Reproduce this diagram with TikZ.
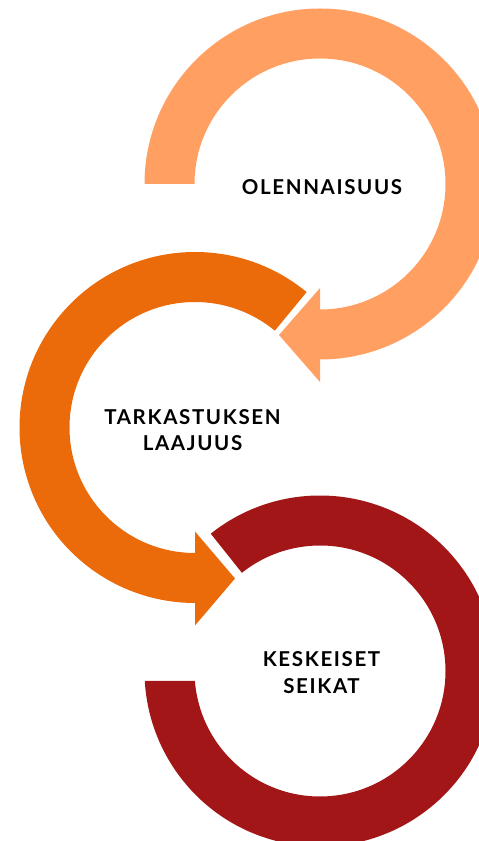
\documentclass[tikz,border=0pt]{standalone}
\usepackage{fontspec}
\usetikzlibrary{calc}
\setmainfont{Lato}[LetterSpace=8]
\definecolor{lightor}{HTML}{FFA062}
\definecolor{darkor}{HTML}{EB6A09}
\definecolor{darkred}{HTML}{A31618}
\tikzset{
  lbl/.style={font=\fontsize{20.5}{26.5}\selectfont\bfseries, align=center, text=black, inner sep=0pt},
}
\begin{document}
\begin{tikzpicture}[x=1pt,y=1pt]
\useasboundingbox (0,0) rectangle (479,841);
\def\Ro{175.5}
\def\Ri{125.5}
% centres (y up)
\coordinate (c1) at (320,657);
\coordinate (c2) at (195,413.5);
\coordinate (c3) at (320,170);
% circle 1: light orange, from left, clockwise, arrow at bottom pointing left
\fill[lightor] ($(c1)+(180:\Ro)$) arc[start angle=180, end angle=-90, radius=\Ro]
  -- ($(c1)+(0,-198)$) -- ($(c1)+(-41,-151)$) -- ($(c1)+(0,-104)$)
  -- ($(c1)+(0,-\Ri)$) arc[start angle=-90, end angle=180, radius=\Ri] -- cycle;
% circle 2: dark orange, counter-clockwise, arrow at bottom pointing right
\fill[darkor] ($(c2)+(50.5:\Ro)$) arc[start angle=50.5, end angle=270, radius=\Ro]
  -- ($(c2)+(0,-198)$) -- ($(c2)+(40,-151)$) -- ($(c2)+(0,-104)$)
  -- ($(c2)+(0,-\Ri)$) arc[start angle=270, end angle=50.5, radius=\Ri] -- cycle;
% circle 3: dark red, clockwise
\fill[darkred] ($(c3)+(128.5:\Ro)$) arc[start angle=128.5, end angle=-176.74, radius=\Ro]
  -- ($(c3)+(-175.45:\Ri)$) arc[start angle=-175.45, end angle=128.5, radius=\Ri] -- cycle;
\node[lbl] (t1) at (322,654) {OLENNAISUUS};
\node[lbl] (t2) at (192.5,411) {TARKASTUKSEN\\LAAJUUS};
\node[lbl] (t3) at (321.5,168.5) {KESKEISET\\SEIKAT};
\end{tikzpicture}
\end{document}
